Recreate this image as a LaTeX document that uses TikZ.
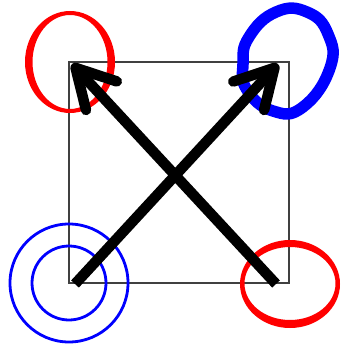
\documentclass[tikz,border=0pt]{standalone}
\usetikzlibrary{arrows.meta}
\begin{document}
\begin{tikzpicture}[x=1pt,y=-1pt,
  frame/.style={draw=black!75, line width=1.4pt},
  bigarrow/.style={draw=black, line width=10.5pt, -{Straight Barb[round,length=38pt,width=42pt]}},
  redloop/.style={fill=red, even odd rule},
  blueloop/.style={draw=blue, line width=11.5pt, line join=round},
  bluering/.style={draw=blue, line width=2.8pt}]
\useasboundingbox (0,0) rectangle (343,344);
\coordinate (tl) at (69,62);
\coordinate (tr) at (289,62);
\coordinate (bl) at (69,283);
\coordinate (br) at (289,283);
% frame
\draw[frame] (tl) rectangle (br);
% top-left red loop
\path[redloop] (70,62) ellipse [x radius=45, y radius=51] (70,62) ellipse [x radius=37.5, y radius=47];
% bottom-right red loop
\path[redloop] (290,284) ellipse [x radius=50, y radius=44] (290,283.5) ellipse [x radius=45.5, y radius=36.5];
% top-right blue loop
\draw[blueloop] plot[smooth cycle, tension=0.8] coordinates {(243,64) (249,37) (276,12) (307,12) (328,34) (330,68) (303,107) (273,111) (247,90)};
% bottom-left blue rings
\draw[bluering] (bl) circle [radius=59];
\draw[bluering] (bl) circle [radius=37];
% arrows
\coordinate (a1s) at (75,284);
\coordinate (a1e) at (278,64);
\coordinate (a2s) at (276,284);
\coordinate (a2e) at (72,64);
\draw[bigarrow] (a1s) -- (a1e);
\draw[bigarrow] (a2s) -- (a2e);
\end{tikzpicture}
\end{document}
